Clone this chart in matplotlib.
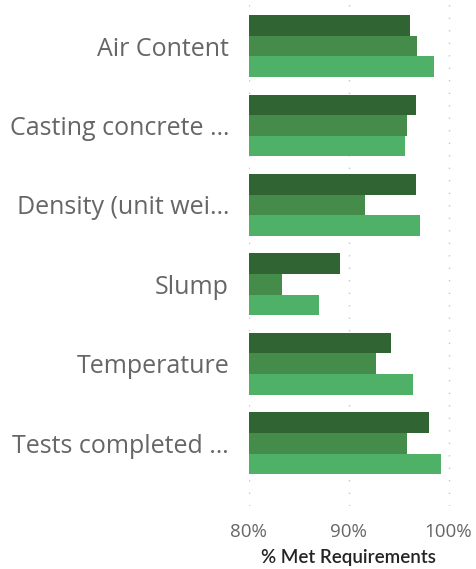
import matplotlib
matplotlib.use("Agg")
import matplotlib.pyplot as plt
import numpy as np

categories = ["Air Content", "Casting concrete …", "Density (unit wei…", "Slump", "Temperature", "Tests completed …"]
series_dark = [96.15, 96.75, 96.75, 89.15, 94.25, 98.05]
series_mid = [96.85, 95.85, 91.65, 83.35, 92.75, 95.85]
series_light = [98.55, 95.65, 97.15, 87.05, 96.45, 99.25]
x_ticks = [80, 90, 100]
x_tick_labels = ["80%", "90%", "100%"]
x_title = "% Met Requirements"

colors = ["#316433", "#458C4A", "#4FB067"]

fig = plt.figure(figsize=(4.77, 5.69), dpi=100)
ax = fig.add_axes([248.5 / 477, 63 / 569, 1 - 248.5 / 477, 506 / 569])

y = np.arange(len(categories))
h = 0.26
xmin = 80
for off, vals, c in zip([-h, 0, h], [series_dark, series_mid, series_light], colors):
    ax.barh(y + off, np.array(vals) - xmin, left=xmin, height=h, color=c, linewidth=0)

ax.set_xlim(80, 102.85)
ax.set_ylim(5.79, -0.58)
ax.set_yticks(y)
ax.set_yticklabels(categories, fontsize=18, color="#666666", family=["Open Sans", "DejaVu Sans"])
ax.set_xticks(x_ticks)
ax.set_xticklabels(x_tick_labels, fontsize=13.5, color="#666666", family=["Open Sans", "DejaVu Sans"])
ax.tick_params(axis="y", length=0, pad=14)
ax.tick_params(axis="x", length=0, pad=12)
for s in ax.spines.values():
    s.set_visible(False)
ax.grid(axis="x", color="#C8C8C8", linestyle=(0, (1, 8)), linewidth=1.0)
ax.set_axisbelow(True)
ax.set_xlabel(x_title, fontsize=13.5, color="#252423", fontweight="semibold", family=["Lato", "DejaVu Sans"])
ax.xaxis.set_label_coords(0.4376, -51 / 506, transform=ax.transAxes)
ax.xaxis.label.set_va("center")

fig.savefig("out.png", dpi=100)
